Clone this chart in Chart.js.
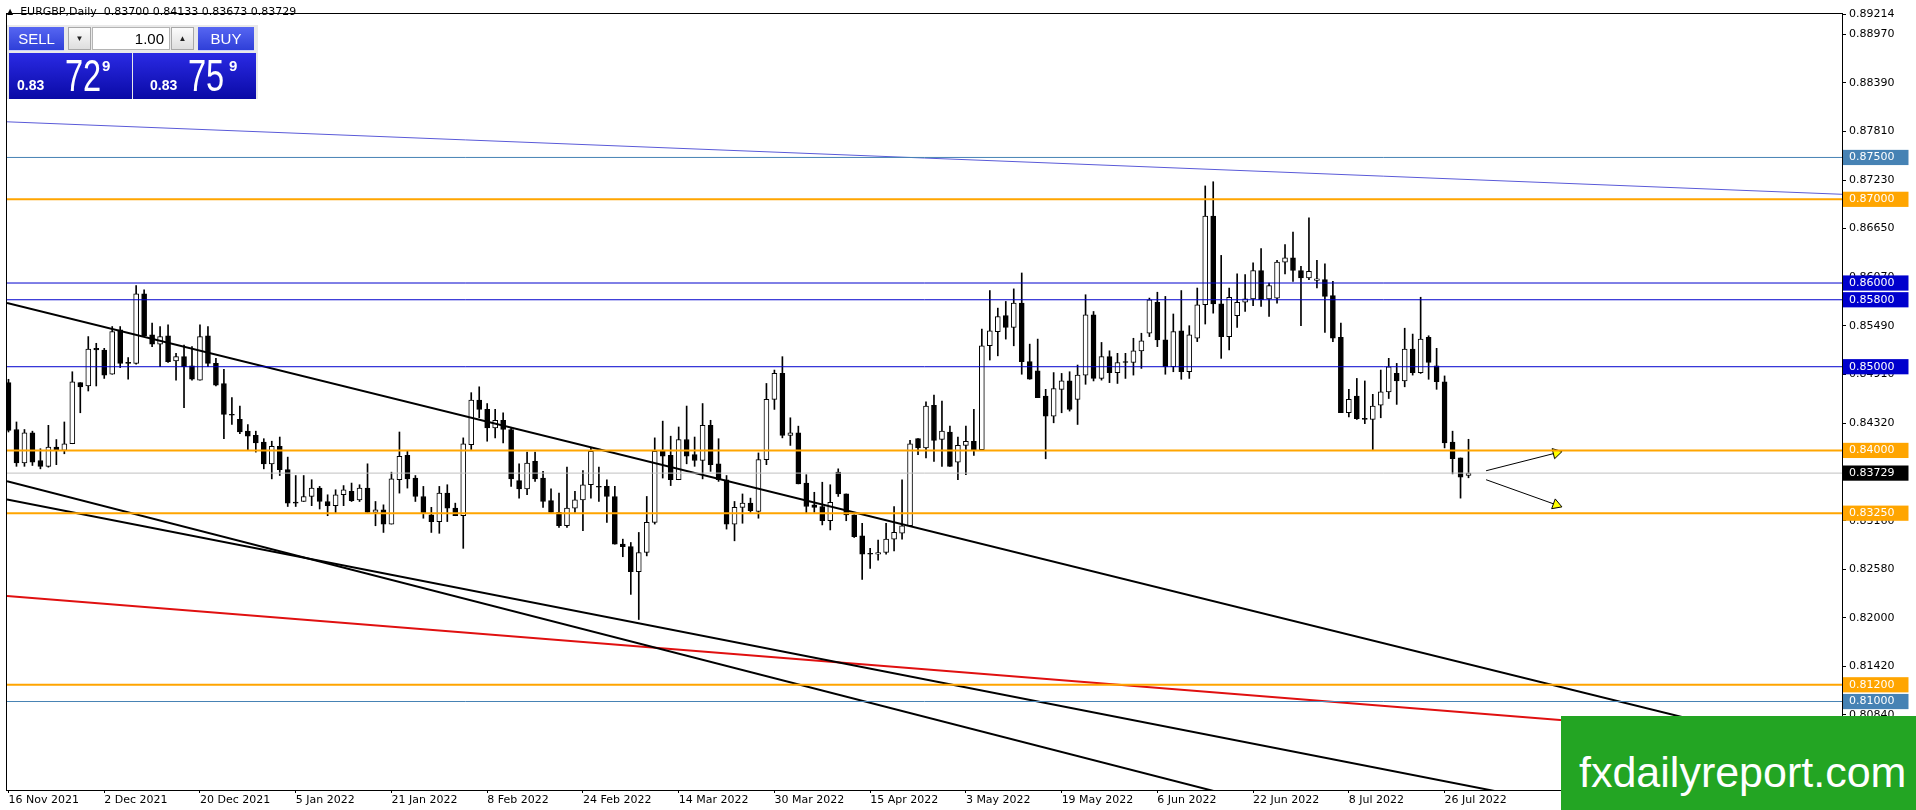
<!DOCTYPE html>
<html>
<head>
<meta charset="utf-8">
<title>EURGBP, Daily</title>
<script src="https://cdn.jsdelivr.net/npm/chart.js@4.4.1/dist/chart.umd.min.js"></script>
<style>
  html, body { margin: 0; padding: 0; background: #fff; }
  #wrap { position: relative; width: 1916px; height: 810px; overflow: hidden; }
  #chart { position: absolute; left: 0; top: 0; }
  .title { position: absolute; left: 7px; top: 5px; font: 11px "DejaVu Sans", sans-serif; color: #000; white-space: pre; }
  .title .tri { font-size: 8px; vertical-align: 1px; }
  .panel { position: absolute; left: 7px; top: 25px; width: 251px; height: 74px; background: #e9e9e9; }
  .panel div { position: absolute; box-sizing: border-box; font-family: "Liberation Sans", Arial, sans-serif; }
  .btn { top: 2px; height: 24px; color: #fff; font-size: 15px; line-height: 23px; text-align: center;
         background: linear-gradient(#5666f2, #2f3fd8); border-bottom: 1px solid #c9cffc; }
  .sell { left: 2px; width: 55px; }
  .buy { left: 191px; width: 56px; }
  .spin { top: 2px; width: 23px; height: 23px; font-size: 8px; line-height: 21px; text-align: center; color: #222;
          background: linear-gradient(#fbfbfb, #dedede); border: 1px solid #a8a8a8; }
  .down { left: 61px; }
  .up { left: 164px; }
  .lot { left: 85px; top: 2px; width: 78px; height: 23px; background: #fff; border: 1px solid #b4b4b4;
         font-size: 15px; line-height: 21px; text-align: right; padding-right: 5px; color: #000; }
  .quote { top: 28px; width: 123px; height: 46px; background: linear-gradient(#2a2ae4, #0a0aa6); color: #fff; }
  .q1 { left: 2px; }
  .q2 { left: 126px; }
  .panel span { position: absolute; color: #fff; font-family: "Liberation Sans", Arial, sans-serif; white-space: nowrap; }
  .pre { font-weight: bold; font-size: 14px; line-height: 14px; top: 53px; }
  .big { font-size: 44px; line-height: 44px; top: 29px; transform: scaleX(0.74); transform-origin: left top; }
  .sup { font-weight: bold; font-size: 15px; line-height: 15px; top: 33px; }
  .mark { position: absolute; left: 1561px; top: 716px; width: 355px; height: 94px; background: #23a523; }
  .mark span { position: absolute; left: 18px; top: 35px; font: 43px/43px "Liberation Sans", Arial, sans-serif; color: #fff; }
</style>
</head>
<body>
<div id="wrap">
  <canvas id="chart" width="1916" height="810"></canvas>
  <div class="title"><span class="tri">▲</span>  EURGBP,Daily  0.83700 0.84133 0.83673 0.83729</div>
  <div class="panel">
    <div class="btn sell">SELL</div>
    <div class="spin down">▼</div>
    <div class="lot">1.00</div>
    <div class="spin up">▲</div>
    <div class="btn buy">BUY</div>
    <div class="quote q1"></div>
    <div class="quote q2"></div>
    <span class="pre" style="left:10px">0.83</span>
    <span class="big" style="left:58px">72</span>
    <span class="sup" style="left:95px">9</span>
    <span class="pre" style="left:143px">0.83</span>
    <span class="big" style="left:181px">75</span>
    <span class="sup" style="left:222px">9</span>
  </div>
  <div class="mark"><span>fxdailyreport.com</span></div>
</div>
<script>
// daily candles, 16 Nov 2021 .. 29 Jul 2022 (index = bar number)
const opens = [
  0.8481, 0.8425, 0.8385, 0.8421, 0.8388, 0.8381, 0.8404, 0.8400, 0.8408, 0.8481,
  0.8477, 0.8522, 0.8520, 0.8491, 0.8544, 0.8504, 0.8504, 0.8587, 0.8538, 0.8527,
  0.8537, 0.8507, 0.8512, 0.8501, 0.8484, 0.8537, 0.8504, 0.8480, 0.8443, 0.8437,
  0.8423, 0.8418, 0.8410, 0.8384, 0.8405, 0.8377, 0.8338, 0.8339, 0.8345, 0.8355,
  0.8339, 0.8334, 0.8347, 0.8351, 0.8341, 0.8355, 0.8326, 0.8329, 0.8312, 0.8365,
  0.8394, 0.8367, 0.8345, 0.8323, 0.8315, 0.8349, 0.8331, 0.8322, 0.8407, 0.8460,
  0.8449, 0.8427, 0.8436, 0.8425, 0.8364, 0.8354, 0.8387, 0.8367, 0.8340, 0.8326,
  0.8310, 0.8331, 0.8341, 0.8359, 0.8357, 0.8357, 0.8345, 0.8288, 0.8285, 0.8255,
  0.8278, 0.8314, 0.8399, 0.8394, 0.8365, 0.8413, 0.8395, 0.8388, 0.8430, 0.8384,
  0.8365, 0.8312, 0.8332, 0.8337, 0.8327, 0.8389, 0.8461, 0.8492, 0.8418, 0.8421,
  0.8361, 0.8335, 0.8333, 0.8316, 0.8374, 0.8348, 0.8323, 0.8298, 0.8277, 0.8276,
  0.8278, 0.8294, 0.8301, 0.8310, 0.8414, 0.8403, 0.8454, 0.8413, 0.8422, 0.8386,
  0.8406, 0.8411, 0.8401, 0.8525, 0.8542, 0.8561, 0.8547, 0.8576, 0.8506, 0.8495,
  0.8465, 0.8441, 0.8473, 0.8483, 0.8461, 0.8490, 0.8562, 0.8486, 0.8512, 0.8493,
  0.8505, 0.8505, 0.8519, 0.8540, 0.8577, 0.8532, 0.8500, 0.8543, 0.8494, 0.8534,
  0.8574, 0.8680, 0.8575, 0.8536, 0.8561, 0.8577, 0.8581, 0.8615, 0.8581, 0.8582,
  0.8625, 0.8630, 0.8615, 0.8606, 0.8603, 0.8604, 0.8585, 0.8535, 0.8445, 0.8465,
  0.8438, 0.8437, 0.8454, 0.8470, 0.8492, 0.8483, 0.8521, 0.8493, 0.8535, 0.8501,
  0.8482, 0.8410, 0.8391, 0.83700
];
const highs = [
  0.8485, 0.8434, 0.8425, 0.8423, 0.8402, 0.8430, 0.8413, 0.8434, 0.8494, 0.8481,
  0.8536, 0.8528, 0.8522, 0.8548, 0.8548, 0.8511, 0.8597, 0.8592, 0.8552, 0.8548,
  0.8550, 0.8516, 0.8526, 0.8524, 0.8550, 0.8548, 0.8510, 0.8497, 0.8463, 0.8453,
  0.8431, 0.8423, 0.8414, 0.8411, 0.8416, 0.8392, 0.8370, 0.8370, 0.8365, 0.8357,
  0.8347, 0.8353, 0.8358, 0.8361, 0.8359, 0.8384, 0.8339, 0.8335, 0.8374, 0.8422,
  0.8400, 0.8370, 0.8357, 0.8332, 0.8357, 0.8359, 0.8337, 0.8415, 0.8469, 0.8476,
  0.8456, 0.8449, 0.8445, 0.8427, 0.8384, 0.8398, 0.8398, 0.8375, 0.8354, 0.8349,
  0.8380, 0.8351, 0.8376, 0.8403, 0.8380, 0.8365, 0.8357, 0.8294, 0.8290, 0.8302,
  0.8345, 0.8415, 0.8435, 0.8417, 0.8428, 0.8453, 0.8416, 0.8456, 0.8436, 0.8414,
  0.8370, 0.8339, 0.8348, 0.8343, 0.8397, 0.8480, 0.8496, 0.8512, 0.8439, 0.8429,
  0.8371, 0.8350, 0.8362, 0.8359, 0.8378, 0.8348, 0.8323, 0.8313, 0.8283, 0.8293,
  0.8313, 0.8333, 0.8365, 0.8412, 0.8414, 0.8458, 0.8466, 0.8459, 0.8429, 0.8416,
  0.8429, 0.8449, 0.8545, 0.8591, 0.8570, 0.8578, 0.8593, 0.8612, 0.8527, 0.8533,
  0.8473, 0.8493, 0.8492, 0.8494, 0.8502, 0.8586, 0.8566, 0.8529, 0.8519, 0.8516,
  0.8516, 0.8534, 0.8540, 0.8582, 0.8589, 0.8584, 0.8563, 0.8591, 0.8549, 0.8594,
  0.8716, 0.8721, 0.8633, 0.8594, 0.8611, 0.8610, 0.8624, 0.8641, 0.8600, 0.8627,
  0.8646, 0.8661, 0.8620, 0.8678, 0.8627, 0.8623, 0.8602, 0.8552, 0.8473, 0.8486,
  0.8483, 0.8467, 0.8496, 0.8510, 0.8504, 0.8546, 0.8539, 0.8583, 0.8537, 0.8522,
  0.8489, 0.8423, 0.8391, 0.84133
];
const lows = [
  0.8422, 0.8381, 0.8381, 0.8382, 0.8378, 0.8380, 0.8383, 0.8396, 0.8408, 0.8445,
  0.8471, 0.8477, 0.8486, 0.8491, 0.8499, 0.8485, 0.8503, 0.8537, 0.8524, 0.8500,
  0.8505, 0.8484, 0.8451, 0.8484, 0.8484, 0.8500, 0.8477, 0.8414, 0.8431, 0.8420,
  0.8401, 0.8398, 0.8378, 0.8366, 0.8370, 0.8333, 0.8333, 0.8339, 0.8334, 0.8330,
  0.8322, 0.8325, 0.8334, 0.8339, 0.8339, 0.8325, 0.8310, 0.8302, 0.8312, 0.8349,
  0.8355, 0.8339, 0.8319, 0.8302, 0.8301, 0.8315, 0.8322, 0.8283, 0.8401, 0.8439,
  0.8411, 0.8415, 0.8409, 0.8357, 0.8343, 0.8347, 0.8363, 0.8332, 0.8326, 0.8308,
  0.8308, 0.8326, 0.8304, 0.8343, 0.8339, 0.8314, 0.8288, 0.8273, 0.8228, 0.8198,
  0.8274, 0.8312, 0.8367, 0.8358, 0.8365, 0.8384, 0.8381, 0.8366, 0.8375, 0.8363,
  0.8306, 0.8292, 0.8313, 0.8326, 0.8319, 0.8383, 0.8449, 0.8415, 0.8406, 0.8360,
  0.8325, 0.8326, 0.8311, 0.8305, 0.8345, 0.8316, 0.8296, 0.8246, 0.8259, 0.8269,
  0.8276, 0.8280, 0.8294, 0.8309, 0.8395, 0.8391, 0.8387, 0.8381, 0.8381, 0.8365,
  0.8371, 0.8394, 0.8401, 0.8508, 0.8513, 0.8533, 0.8525, 0.8491, 0.8485, 0.8463,
  0.8390, 0.8433, 0.8445, 0.8447, 0.8431, 0.8479, 0.8483, 0.8484, 0.8481, 0.8480,
  0.8486, 0.8490, 0.8498, 0.8536, 0.8524, 0.8491, 0.8494, 0.8485, 0.8486, 0.8530,
  0.8551, 0.8564, 0.8510, 0.8520, 0.8547, 0.8566, 0.8573, 0.8572, 0.8560, 0.8576,
  0.8611, 0.8602, 0.8549, 0.8604, 0.8594, 0.8541, 0.8530, 0.8445, 0.8440, 0.8437,
  0.8432, 0.8401, 0.8439, 0.8462, 0.8455, 0.8476, 0.8490, 0.8492, 0.8485, 0.8473,
  0.8403, 0.8372, 0.8343, 0.83673
];
const closes = [
  0.8424, 0.8385, 0.8421, 0.8386, 0.8381, 0.8404, 0.8401, 0.8408, 0.8482, 0.8476,
  0.8521, 0.8520, 0.8490, 0.8542, 0.8504, 0.8505, 0.8587, 0.8537, 0.8527, 0.8536,
  0.8506, 0.8512, 0.8500, 0.8485, 0.8536, 0.8504, 0.8478, 0.8443, 0.8442, 0.8422,
  0.8417, 0.8409, 0.8384, 0.8405, 0.8377, 0.8337, 0.8337, 0.8345, 0.8355, 0.8339,
  0.8334, 0.8347, 0.8353, 0.8340, 0.8355, 0.8326, 0.8329, 0.8312, 0.8366, 0.8393,
  0.8366, 0.8345, 0.8325, 0.8315, 0.8349, 0.8331, 0.8322, 0.8408, 0.8460, 0.8449,
  0.8427, 0.8436, 0.8425, 0.8366, 0.8354, 0.8385, 0.8366, 0.8339, 0.8326, 0.8310,
  0.8331, 0.8341, 0.8359, 0.8399, 0.8356, 0.8345, 0.8288, 0.8285, 0.8255, 0.8278,
  0.8314, 0.8399, 0.8393, 0.8365, 0.8413, 0.8393, 0.8388, 0.8430, 0.8383, 0.8365,
  0.8312, 0.8332, 0.8337, 0.8328, 0.8389, 0.8461, 0.8492, 0.8418, 0.8421, 0.8360,
  0.8333, 0.8332, 0.8316, 0.8338, 0.8348, 0.8323, 0.8297, 0.8276, 0.8276, 0.8278,
  0.8294, 0.8302, 0.8310, 0.8408, 0.8403, 0.8453, 0.8412, 0.8423, 0.8381, 0.8406,
  0.8411, 0.8401, 0.8525, 0.8543, 0.8560, 0.8547, 0.8576, 0.8506, 0.8485, 0.8463,
  0.8441, 0.8474, 0.8483, 0.8449, 0.8490, 0.8562, 0.8486, 0.8512, 0.8493, 0.8505,
  0.8506, 0.8519, 0.8531, 0.8580, 0.8532, 0.8500, 0.8542, 0.8494, 0.8538, 0.8574,
  0.8680, 0.8575, 0.8536, 0.8583, 0.8577, 0.8581, 0.8615, 0.8580, 0.8597, 0.8625,
  0.8630, 0.8615, 0.8606, 0.8614, 0.8605, 0.8584, 0.8534, 0.8445, 0.8461, 0.8438,
  0.8437, 0.8453, 0.8470, 0.8500, 0.8483, 0.8521, 0.8493, 0.8533, 0.8505, 0.8482,
  0.8409, 0.8390, 0.8368, 0.83729
];

// time axis labels (bar index -> text)
const dateTickBars = [0, 12, 24, 36, 48, 60, 72, 84, 96, 108, 120, 132, 144, 156, 168, 180];
const dateTickText = ['16 Nov 2021', '2 Dec 2021', '20 Dec 2021', '5 Jan 2022', '21 Jan 2022', '8 Feb 2022',
  '24 Feb 2022', '14 Mar 2022', '30 Mar 2022', '15 Apr 2022', '3 May 2022', '19 May 2022',
  '6 Jun 2022', '22 Jun 2022', '8 Jul 2022', '26 Jul 2022'];

// price scale
const priceTicks = [0.8084, 0.8142, 0.8200, 0.8258, 0.8316, 0.8374, 0.8432, 0.8491,
  0.8549, 0.8607, 0.8665, 0.8723, 0.8781, 0.8839, 0.8897];
const priceTop = 0.89214;
const bidPrice = 0.83729;

// horizontal levels
const levels = [0.8750, 0.8700, 0.8600, 0.8580, 0.8500, 0.8400, 0.8325, 0.8120, 0.8100];
const levelKinds = ['steel', 'orange', 'blue', 'blue', 'blue', 'orange', 'orange', 'orange', 'steel'];

const X_MIN = -0.1875;
const X_MAX = 229.8125;

// trend lines [bar, price]
const blueTrend = [[X_MIN, 0.87926], [X_MAX, 0.87060]];
const upperTrend = [[X_MIN, 0.85762], [X_MAX, 0.80343]];
const lowerTrendA = [[X_MIN, 0.83413], [X_MAX, 0.79118]];
const lowerTrendB = [[X_MIN, 0.83632], [X_MAX, 0.78004]];
const redTrend = [[X_MIN, 0.82262], [X_MAX, 0.80510]];
const arrowUp = [[185.2, 0.83757], [194.0, 0.83970]];
const arrowDown = [[185.2, 0.83650], [194.0, 0.83350]];

const kindColor = { steel: '#4682b4', orange: '#ffa500', blue: '#0000cd' };
const kindWidth = { steel: 1, orange: 2, blue: 1 };

const bars = opens.map((o, i) => i);
const isBull = i => closes[i] - opens[i] > 0.00015;

function seg(points, color, width, extra) {
  return Object.assign({
    type: 'line',
    data: points.map(p => ({ x: p[0], y: p[1] })),
    borderColor: color,
    borderWidth: width,
    pointRadius: 0,
    order: 0
  }, extra || {});
}

const lineSets = [];
levels.forEach((v, k) => {
  lineSets.push(seg([[X_MIN, v], [X_MAX, v]], kindColor[levelKinds[k]], kindWidth[levelKinds[k]]));
});
lineSets.push(seg([[X_MIN, bidPrice], [X_MAX, bidPrice]], '#c0c0c0', 1));
lineSets.push(seg(blueTrend, '#5a5ad8', 1));
lineSets.push(seg(upperTrend, '#000', 2));
lineSets.push(seg(lowerTrendA, '#000', 2));
lineSets.push(seg(lowerTrendB, '#000', 2));
lineSets.push(seg(redTrend, '#e01010', 2));
[[arrowUp, 76], [arrowDown, 110]].forEach(([pts, rot]) => {
  lineSets.push(seg(pts, '#000', 1, {
    pointRadius: [0, 6],
    pointStyle: 'triangle',
    pointRotation: [0, rot],
    pointBackgroundColor: '#ffff00',
    pointBorderColor: '#000',
    pointBorderWidth: 1
  }));
});

const labelBox = v => {
  if (v === bidPrice) return '#000';
  const k = levels.indexOf(v);
  return k >= 0 ? kindColor[levelKinds[k]] : 'rgba(0,0,0,0)';
};

const frame = {
  id: 'frame',
  afterDatasetsDraw(chart) {
    const { ctx, chartArea: a } = chart;
    ctx.save();
    ctx.strokeStyle = '#000';
    ctx.lineWidth = 1;
    ctx.strokeRect(a.left - 0.5, a.top - 0.5, a.right - a.left + 1, a.bottom - a.top + 1);
    ctx.restore();
  }
};

const axisFont = { family: 'DejaVu Sans', size: 11 };

new Chart(document.getElementById('chart'), {
  type: 'bar',
  data: {
    datasets: [
      ...lineSets,
      {
        type: 'bar',
        data: bars.map(i => ({ x: i, y: [opens[i], closes[i]] })),
        grouped: false,
        barThickness: 5,
        minBarLength: 1,
        borderSkipped: false,
        borderWidth: 1,
        borderColor: '#000',
        backgroundColor: ctx => isBull(ctx.dataIndex) ? '#fff' : '#000',
        order: 1
      },
      {
        type: 'bar',
        data: bars.map(i => ({ x: i, y: [lows[i], highs[i]] })),
        grouped: false,
        barThickness: 1,
        borderWidth: 0,
        backgroundColor: '#000',
        order: 2
      }
    ]
  },
  options: {
    responsive: false,
    animation: false,
    events: [],
    layout: { padding: { left: 2, top: 14, right: 0, bottom: 0 } },
    plugins: { legend: { display: false }, tooltip: { enabled: false } },
    scales: {
      x: {
        type: 'linear',
        min: X_MIN,
        max: X_MAX,
        offset: false,
        afterFit: s => { s.height = 20; },
        afterBuildTicks: s => { s.ticks = dateTickBars.map(v => ({ value: v })); },
        grid: { offset: false, drawOnChartArea: false, tickLength: 3, color: '#000' },
        border: { display: false },
        ticks: {
          autoSkip: false,
          maxRotation: 0,
          align: 'start',
          padding: 1,
          color: '#000',
          font: axisFont,
          callback: v => dateTickText[dateTickBars.indexOf(v)] || ''
        }
      },
      y: {
        type: 'linear',
        position: 'right',
        min: 0.79943,
        max: priceTop,
        afterFit: s => { s.width = 74; },
        afterBuildTicks: s => {
          s.ticks = [...priceTicks, priceTop, ...levels, bidPrice].map(v => ({ value: v }));
        },
        grid: { drawOnChartArea: false, tickLength: 4, color: '#000' },
        border: { display: false },
        ticks: {
          autoSkip: false,
          padding: 3,
          font: axisFont,
          color: ctx => labelBox(ctx.tick.value) === 'rgba(0,0,0,0)' ? '#000' : '#fff',
          showLabelBackdrop: true,
          backdropColor: ctx => labelBox(ctx.tick.value),
          backdropPadding: { left: 6, right: 14, top: 1, bottom: 1 },
          callback: v => v.toFixed(5)
        }
      }
    }
  },
  plugins: [frame]
});
</script>
</body>
</html>
